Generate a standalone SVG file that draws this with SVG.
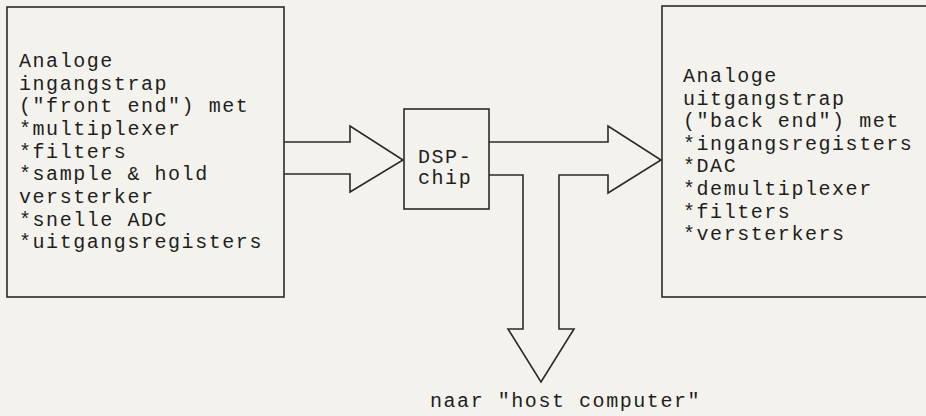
<svg xmlns="http://www.w3.org/2000/svg" width="926" height="416" viewBox="0 0 926 416">
  <style>
    .box { fill: none; stroke: #2a2a2a; stroke-width: 1.6; }
    .conn { fill: none; stroke: #2a2a2a; stroke-width: 1.6; stroke-linejoin: miter; }
    .t { font-family: "Liberation Mono", "Courier New", monospace; font-size: 20px; letter-spacing: 1.55px; fill: #1e1e1e; }
  </style>
  <rect x="0" y="0" width="926" height="416" fill="#f3f2ec"/>
  <g id="connectors">
    <polyline class="conn" points="284,142 350,142 350,126 403,160 350,192 350,174 284,174"/>
    <polyline class="conn" points="489,142 608,142 608,126 661,160 608,193 608,175 559,175 559,329 574,329 541,382 508,329 523,329 523,175 489,175"/>
  </g>
  <g id="frontend">
    <rect class="box" x="7" y="7" width="277" height="290"/>
    <text class="t" x="19" y="67">Analoge</text>
    <text class="t" x="19" y="89.7">ingangstrap</text>
    <text class="t" x="19" y="112.4">("front end") met</text>
    <text class="t" x="19" y="135">*multiplexer</text>
    <text class="t" x="19" y="157.7">*filters</text>
    <text class="t" x="19" y="180.4">*sample &amp; hold</text>
    <text class="t" x="19" y="203">versterker</text>
    <text class="t" x="19" y="225.7">*snelle ADC</text>
    <text class="t" x="19" y="248.4">*uitgangsregisters</text>
  </g>
  <g id="dsp">
    <rect class="box" x="404" y="109" width="85" height="100"/>
    <text class="t" x="418" y="163">DSP-</text>
    <text class="t" x="418" y="184">chip</text>
  </g>
  <g id="backend">
    <rect class="box" x="662" y="6" width="280" height="291"/>
    <text class="t" x="683" y="82">Analoge</text>
    <text class="t" x="683" y="104.6">uitgangstrap</text>
    <text class="t" x="683" y="127.2">("back end") met</text>
    <text class="t" x="683" y="149.8">*ingangsregisters</text>
    <text class="t" x="683" y="172.4">*DAC</text>
    <text class="t" x="683" y="195">*demultiplexer</text>
    <text class="t" x="683" y="217.6">*filters</text>
    <text class="t" x="683" y="240.2">*versterkers</text>
  </g>
  <g id="host">
    <text class="t" x="430" y="407">naar "host computer"</text>
  </g>
</svg>
